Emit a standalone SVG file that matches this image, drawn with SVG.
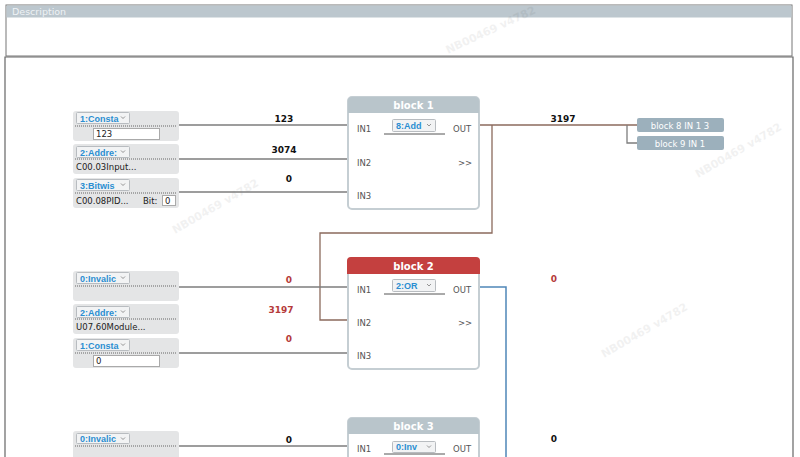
<svg xmlns="http://www.w3.org/2000/svg" width="800" height="457" viewBox="0 0 800 457">
<defs>
<path id="chev" d="M0,0 L2,2 L4,0" fill="none" stroke="#888" stroke-width="0.9"/>
</defs>
<style>
text{font-family:"DejaVu Sans",Verdana,sans-serif;}
.src{fill:#e4e5e6;}
.dd{fill:#f2f3f4;stroke:#b8bcc0;stroke-width:1;}
.ddt{font-family:"Liberation Sans",Arial,sans-serif;font-size:9px;font-weight:bold;fill:#2b8ed1;}
.dot{stroke:#666;stroke-width:1;stroke-dasharray:1,1;}
.inp{fill:#fff;stroke:#aaa;stroke-width:1;}
.t{font-size:8.5px;fill:#222;}
.wire{stroke:#7d7d7d;stroke-width:1.3;fill:none;}
.brown{stroke:#8b6a5c;stroke-width:1.3;fill:none;}
.blue{stroke:#4f86b8;stroke-width:1.5;fill:none;}
.val{font-size:9px;font-weight:bold;text-anchor:middle;fill:#111;}
.red{fill:#b53a3a;}
.blk{fill:#fff;stroke:#c5ced3;stroke-width:2;}
.ttl{font-size:10px;font-weight:bold;fill:#fff;text-anchor:middle;}
.pin{font-size:8.5px;fill:#555;}
.ul{stroke:#555;stroke-width:1;}
.tgt{fill:#9cb0bc;}
.tgtt{font-size:8.5px;fill:#fff;text-anchor:middle;}
.wm{font-size:11px;font-weight:bold;fill:#000;opacity:0.05;}
</style>

<!-- description panel -->
<g id="description">
<rect x="6" y="5" width="786" height="51" fill="#fff" stroke="#777" stroke-width="1"/>
<rect x="6.5" y="5.5" width="785" height="12" fill="#bcc7ce"/>
<text x="12" y="15" font-size="9.5" fill="#eef2f5">Description</text>
</g>
<!-- main frame -->
<path d="M5,457 V57 H793 V457" fill="none" stroke="#666" stroke-width="1.2"/>

<!-- watermarks -->
<g id="watermarks">
<text class="wm" transform="translate(175,234) rotate(-30)">NB00469  v4782</text>
<text class="wm" transform="translate(448,54) rotate(-25)">NB00469  v4782</text>
<text class="wm" transform="translate(604,358) rotate(-30)">NB00469  v4782</text>
<text class="wm" transform="translate(698,178) rotate(-30)">NB00469  v4782</text>
</g>

<!-- connectors -->
<g id="connectors">
<line class="wire" x1="179" y1="125" x2="348" y2="125"/>
<line class="wire" x1="179" y1="159" x2="348" y2="159"/>
<line class="wire" x1="179" y1="192" x2="348" y2="192"/>
<line class="brown" x1="479" y1="125" x2="637" y2="125"/>
<path class="wire" d="M627,125 V143 H637"/>
<path class="brown" d="M492,125 V233 H320 V320 H348"/>
<line class="wire" x1="179" y1="287" x2="348" y2="287"/>
<line class="wire" x1="179" y1="353" x2="348" y2="353"/>
<path class="blue" d="M479,287 H506 V457"/>
<line class="wire" x1="179" y1="446" x2="348" y2="446"/>
<text class="val" x="284" y="122">123</text>
<text class="val" x="284" y="153">3074</text>
<text class="val" x="289" y="182">0</text>
<text class="val" x="563" y="122">3197</text>
<text class="val red" x="289" y="283">0</text>
<text class="val red" x="281" y="313">3197</text>
<text class="val red" x="289" y="342">0</text>
<text class="val red" x="554" y="282">0</text>
<text class="val" x="289" y="443">0</text>
<text class="val" x="554" y="442">0</text>
</g>

<!-- source nodes row 1 -->
<g id="src1">
<rect class="src" x="73" y="111" width="106" height="30" rx="3"/>
<rect class="dd" x="76.5" y="112.5" width="53" height="11" rx="1"/>
<text class="ddt" x="80" y="121.5">1:Consta</text><use href="#chev" x="121" y="116.5"/>
<line class="dot" x1="75" y1="126" x2="177" y2="126"/>
<rect class="inp" x="93.5" y="128.5" width="66" height="11"/>
<text class="t" x="96" y="137">123</text>
</g>
<g id="src2">
<rect class="src" x="73" y="144" width="106" height="30" rx="3"/>
<rect class="dd" x="76.5" y="146.5" width="53" height="11" rx="1"/>
<text class="ddt" x="80" y="155.5">2:Addre:</text><use href="#chev" x="121" y="150.5"/>
<line class="dot" x1="75" y1="159" x2="177" y2="159"/>
<text class="t" x="76" y="170">C00.03Input...</text>
</g>
<g id="src3">
<rect class="src" x="73" y="178" width="106" height="30" rx="3"/>
<rect class="dd" x="76.5" y="179.5" width="53" height="11" rx="1"/>
<text class="ddt" x="80" y="188.5">3:Bitwis</text><use href="#chev" x="121" y="183.5"/>
<line class="dot" x1="75" y1="193" x2="177" y2="193"/>
<text class="t" x="76" y="204">C00.08PID...</text>
<text class="t" x="143" y="204">Bit:</text>
<rect class="inp" x="162.5" y="195.5" width="13" height="10"/>
<text class="t" x="165" y="203.5">0</text>
</g>

<!-- block 1 -->
<g id="block1">
<rect class="blk" x="348" y="97" width="131" height="112" rx="4"/>
<path d="M348,113 V101 Q348,97 352,97 H475 Q479,97 479,101 V113 Z" fill="#b9c5cb"/>
<text class="ttl" x="413.5" y="109">block 1</text>
<text class="pin" x="357" y="132">IN1</text>
<text class="pin" x="357" y="166">IN2</text>
<text class="pin" x="357" y="199">IN3</text>
<text class="pin" x="453" y="132">OUT</text>
<text class="pin" x="458" y="166">&gt;&gt;</text>
<rect class="dd" x="392.5" y="119.5" width="43" height="12" rx="1"/>
<text class="ddt" x="396" y="128.5">8:Add</text><use href="#chev" x="427" y="124"/>
<line class="ul" x1="384" y1="134" x2="445" y2="134"/>
</g>

<!-- targets -->
<g id="target8">
<rect class="tgt" x="637" y="118" width="87" height="14" rx="2"/>
<text class="tgtt" x="680" y="128.5">block 8 IN 1 3</text>
</g>
<g id="target9">
<rect class="tgt" x="637" y="136" width="87" height="14" rx="2"/>
<text class="tgtt" x="680" y="146.5">block 9 IN 1</text>
</g>

<!-- source nodes row 2 -->
<g id="src4">
<rect class="src" x="73" y="271" width="106" height="30" rx="3"/>
<rect class="dd" x="76.5" y="272.5" width="53" height="11" rx="1"/>
<text class="ddt" x="80" y="281.5">0:Invalic</text><use href="#chev" x="121" y="276.5"/>
<line class="dot" x1="75" y1="286" x2="177" y2="286"/>
</g>
<g id="src5">
<rect class="src" x="73" y="304" width="106" height="30" rx="3"/>
<rect class="dd" x="76.5" y="306.5" width="53" height="11" rx="1"/>
<text class="ddt" x="80" y="315.5">2:Addre:</text><use href="#chev" x="121" y="310.5"/>
<line class="dot" x1="75" y1="319" x2="177" y2="319"/>
<text class="t" x="76" y="330">U07.60Module...</text>
</g>
<g id="src6">
<rect class="src" x="73" y="338" width="106" height="30" rx="3"/>
<rect class="dd" x="76.5" y="339.5" width="53" height="11" rx="1"/>
<text class="ddt" x="80" y="348.5">1:Consta</text><use href="#chev" x="121" y="343.5"/>
<line class="dot" x1="75" y1="353" x2="177" y2="353"/>
<rect class="inp" x="93.5" y="355.5" width="66" height="11"/>
<text class="t" x="96" y="364">0</text>
</g>

<!-- block 2 -->
<g id="block2">
<rect class="blk" x="348" y="258" width="131" height="111" rx="4"/>
<path d="M347,274 V261 Q347,257 351,257 H476 Q480,257 480,261 V274 Z" fill="#c4403f"/>
<text class="ttl" x="413.5" y="270">block 2</text>
<text class="pin" x="357" y="293">IN1</text>
<text class="pin" x="357" y="326">IN2</text>
<text class="pin" x="357" y="359">IN3</text>
<text class="pin" x="453" y="293">OUT</text>
<text class="pin" x="458" y="326">&gt;&gt;</text>
<rect class="dd" x="392.5" y="279.5" width="43" height="12" rx="1"/>
<text class="ddt" x="396" y="288.5">2:OR</text><use href="#chev" x="427" y="284"/>
<line class="ul" x1="384" y1="294" x2="445" y2="294"/>
</g>

<!-- source row 3 -->
<g id="src7">
<rect class="src" x="73" y="431" width="106" height="30" rx="3"/>
<rect class="dd" x="76.5" y="433.5" width="53" height="10" rx="1"/>
<text class="ddt" x="80" y="442">0:Invalic</text><use href="#chev" x="121" y="437.5"/>
<line class="dot" x1="75" y1="446" x2="177" y2="446"/>
</g>

<!-- block 3 -->
<g id="block3">
<rect class="blk" x="348" y="418" width="131" height="60" rx="4"/>
<path d="M348,434 V422 Q348,418 352,418 H475 Q479,418 479,422 V434 Z" fill="#b9c5cb"/>
<text class="ttl" x="413.5" y="430">block 3</text>
<text class="pin" x="357" y="452">IN1</text>
<text class="pin" x="453" y="452">OUT</text>
<rect class="dd" x="392.5" y="441.5" width="43" height="11" rx="1"/>
<text class="ddt" x="396" y="450">0:Inv</text><use href="#chev" x="427" y="445.5"/>
<line class="ul" x1="384" y1="454" x2="445" y2="454"/>
</g>
</svg>
